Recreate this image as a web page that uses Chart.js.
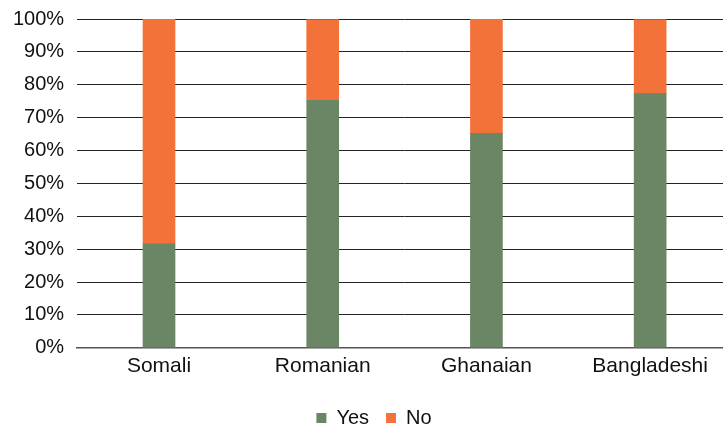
<!DOCTYPE html>
<html>
<head>
<meta charset="utf-8">
<script src="https://cdn.jsdelivr.net/npm/chart.js@4.4.1/dist/chart.umd.min.js"></script>
<style>
  html, body { margin: 0; padding: 0; overflow: hidden; background: #fff; }
  #wrap { width: 748px; height: 430px; position: relative; }
</style>
</head>
<body>
<div id="wrap"><canvas id="surveyChart"></canvas></div>
<script>
// share of respondents per group (percent)
const groups = ['Somali', 'Romanian', 'Ghanaian', 'Bangladeshi'];
const yesShare = [31.6, 75.3, 65.2, 77.3];
const noShare = [68.4, 24.5, 34.8, 22.5];
const yTicks = [0, 10, 20, 30, 40, 50, 60, 70, 80, 90, 100];

const FONT = "'Liberation Sans', Arial, Helvetica, sans-serif";

// the legend sits centred under the whole canvas, not under the padded box
const legendShift = {
    id: 'legendShift',
    afterLayout(chart) {
        chart.legend.left += 8;
        chart.legend.right += 8;
    }
};

new Chart(document.getElementById('surveyChart'), {
    type: 'bar',
    data: {
        labels: groups,
        datasets: [
            { label: 'Yes', data: yesShare, backgroundColor: '#6a8664', barThickness: 32 },
            { label: 'No', data: noShare, backgroundColor: '#f2723a', barThickness: 32 }
        ]
    },
    plugins: [legendShift],
    options: {
        responsive: true,
        maintainAspectRatio: false,
        animation: false,
        layout: { padding: { top: 0, right: 16, left: 0, bottom: -8 } },
        plugins: {
            legend: {
                position: 'bottom',
                labels: {
                    boxWidth: 10,
                    boxHeight: 10,
                    padding: 17,
                    color: '#111',
                    font: { family: FONT, size: 20 }
                }
            },
            tooltip: { enabled: false }
        },
        scales: {
            x: {
                stacked: true,
                grid: { display: false, drawTicks: false },
                border: { color: '#555', width: 1.5 },
                ticks: { color: '#111', padding: 6, font: { family: FONT, size: 21 } },
                afterFit: axis => { axis.height += 6; }
            },
            y: {
                stacked: true,
                min: 0,
                max: 100,
                afterBuildTicks: axis => { axis.ticks = yTicks.map(v => ({ value: v })); },
                afterFit: axis => { axis.paddingTop = 19; },
                grid: { color: '#222', lineWidth: 1, drawTicks: false },
                border: { display: false },
                ticks: {
                    color: '#111',
                    padding: 13,
                    font: { family: FONT, size: 20 },
                    callback: v => v + '%'
                }
            }
        }
    }
});
</script>
</body>
</html>
